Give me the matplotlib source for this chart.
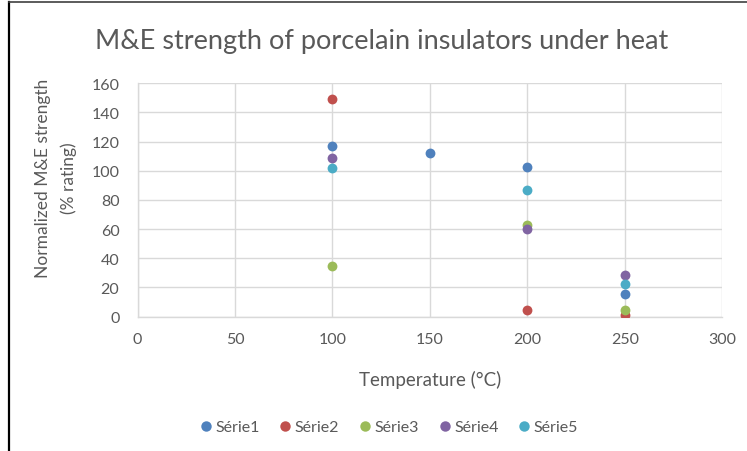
import matplotlib
matplotlib.use("Agg")
import matplotlib.pyplot as plt
from matplotlib.lines import Line2D

plt.rcParams['font.family'] = ['Lato', 'DejaVu Sans']

temps_s1 = [100, 150, 200, 250]
vals_s1 = [116.6, 112.0, 102.5, 15.7]
temps_s2 = [100, 200, 250]
vals_s2 = [149.0, 4.3, 0.9]
temps_s3 = [100, 200, 250]
vals_s3 = [34.8, 62.9, 4.8]
temps_s4 = [100, 200, 250]
vals_s4 = [108.8, 60.2, 28.7]
temps_s5 = [100, 200, 250]
vals_s5 = [101.8, 86.6, 22.6]

series_names = ['Série1', 'Série2', 'Série3', 'Série4', 'Série5']
colors = ['#4F81BD', '#C0504D', '#9BBB59', '#8064A2', '#4BACC6']
title = 'M&E strength of porcelain insulators under heat'
xlabel = 'Temperature (°C)'
ylabel = 'Normalized M&E strength\n(% rating)'
xticks = [0, 50, 100, 150, 200, 250, 300]
yticks = [0, 20, 40, 60, 80, 100, 120, 140, 160]

W, H = 747, 452
fig = plt.figure(figsize=(W / 100, H / 100), dpi=100)
ax = fig.add_axes([137.5 / W, 1 - 317.5 / H, (722.3 - 137.5) / W, (317.5 - 84.2) / H])

data = [(temps_s1, vals_s1), (temps_s2, vals_s2), (temps_s3, vals_s3),
        (temps_s4, vals_s4), (temps_s5, vals_s5)]
for (xs, ys), c, n in zip(data, colors, series_names):
    ax.scatter(xs, ys, s=50, color=c, label=n, zorder=3, linewidths=0)

ax.set_xlim(0, 300)
ax.set_ylim(0, 160)
ax.set_xticks(xticks)
ax.set_yticks(yticks)
ax.grid(True, color='#D9D9D9', linewidth=1.0)
ax.set_axisbelow(True)
for side in ['top', 'right']:
    ax.spines[side].set_visible(False)
for side in ['left', 'bottom']:
    ax.spines[side].set_color('#D9D9D9')
    ax.spines[side].set_linewidth(1.0)
ax.tick_params(length=0, labelsize=11.5, labelcolor='#595959')
ax.tick_params(axis='y', pad=13)
ax.tick_params(axis='x', pad=11)

fig.text(382 / W, 1 - 42 / H, title, ha='center', va='center', fontsize=19.5, color='#595959')
fig.text(430 / W, 1 - 380 / H, xlabel, ha='center', va='center', fontsize=13.5, color='#595959')
fig.text(56 / W, 1 - 178.5 / H, ylabel, ha='center', va='center', rotation=90,
         fontsize=12.5, color='#595959', linespacing=1.65, multialignment='center')

handles = [Line2D([], [], marker='o', linestyle='none', markersize=7.5, markerfacecolor=c,
                  markeredgewidth=0) for c in colors]
fig.legend(handles, series_names, loc='center', bbox_to_anchor=(388 / W, 1 - 428 / H),
           ncol=5, frameon=False, fontsize=11.5, handletextpad=0.1, columnspacing=1.1,
           labelcolor='#595959', handlelength=1.0)

# chart border lines
fig.add_artist(Line2D([8.5 / W, 8.5 / W], [0, 1 - 3 / H], transform=fig.transFigure,
                      color='black', linewidth=1.6))
fig.add_artist(Line2D([8.5 / W, 1], [1 - 3 / H, 1 - 3 / H], transform=fig.transFigure,
                      color='#404040', linewidth=1.2))

fig.savefig('out.png', dpi=100)
